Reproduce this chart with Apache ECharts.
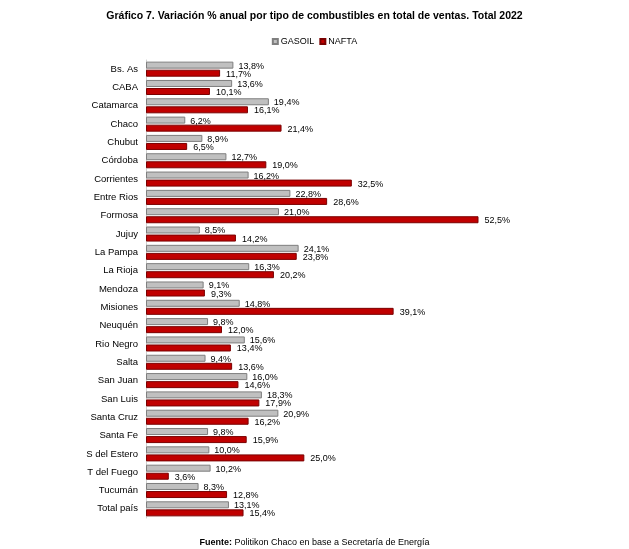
<!DOCTYPE html>
<html lang="es">
<head>
<meta charset="UTF-8">
<title>Gráfico 7</title>
<style>
  html, body { margin: 0; padding: 0; background: #fff; }
  #main { width: 629px; height: 549px; }
</style>
<script src="https://cdn.jsdelivr.net/npm/echarts@6/dist/echarts.min.js"></script>
</head>
<body>
<div id="main"></div>
<script type="text/javascript">
// provincias, de arriba hacia abajo
var provincias = ['Bs. As', 'CABA', 'Catamarca', 'Chaco', 'Chubut', 'Córdoba', 'Corrientes',
  'Entre Rios', 'Formosa', 'Jujuy', 'La Pampa', 'La Rioja', 'Mendoza', 'Misiones', 'Neuquén',
  'Rio Negro', 'Salta', 'San Juan', 'San Luis', 'Santa Cruz', 'Santa Fe', 'S del Estero',
  'T del Fuego', 'Tucumán', 'Total país'];
var gasoil = [13.8, 13.6, 19.4, 6.2, 8.9, 12.7, 16.2, 22.8, 21.0, 8.5, 24.1, 16.3, 9.1, 14.8,
  9.8, 15.6, 9.4, 16.0, 18.3, 20.9, 9.8, 10.0, 10.2, 8.3, 13.1];
var nafta = [11.7, 10.1, 16.1, 21.4, 6.5, 19.0, 32.5, 28.6, 52.5, 14.2, 23.8, 20.2, 9.3, 39.1,
  12.0, 13.4, 13.6, 14.6, 17.9, 16.2, 15.9, 25.0, 3.6, 12.8, 15.4];

var fmt = function (p) {
  return p.value.toFixed(1).replace('.', ',') + '%';
};

var myChart = echarts.init(document.getElementById('main'));
var option = {
  animation: false,
  textStyle: { fontFamily: 'Liberation Sans, Arial, sans-serif' },
  title: [
    {
      text: 'Gráfico 7. Variación % anual por tipo de combustibles en total de ventas. Total 2022',
      left: 'center',
      top: 6,
      textStyle: { fontSize: 10.5, fontWeight: 'bold', color: '#000' }
    },
    {
      text: '{b|Fuente:} Politikon Chaco en base a Secretaría de Energía',
      left: 'center',
      top: 533,
      textStyle: {
        fontSize: 9, fontWeight: 'normal', color: '#000',
        rich: { b: { fontSize: 9, fontWeight: 'bold', color: '#000' } }
      }
    }
  ],
  legend: {
    top: 32,
    left: 'center',
    icon: 'rect',
    itemWidth: 5,
    itemHeight: 5,
    itemGap: 5,
    textStyle: { fontSize: 9, color: '#000', padding: [0, 0, 0, -2] },
    data: ['GASOIL', 'NAFTA']
  },
  grid: { left: 146, right: 103, top: 60, bottom: 31 },
  xAxis: {
    type: 'value',
    min: 0,
    max: 60,
    show: false
  },
  yAxis: {
    type: 'category',
    inverse: true,
    data: provincias,
    axisLine: { lineStyle: { color: '#d0d0d0', width: 1 } },
    axisTick: { show: false },
    axisLabel: { fontSize: 9.5, color: '#000', margin: 8 }
  },
  series: [
    {
      name: 'GASOIL',
      type: 'bar',
      data: gasoil,
      barWidth: 7,
      barGap: '15%',
      itemStyle: { color: '#c0c0c0', borderColor: '#7f7f7f', borderWidth: 1 },
      label: {
        show: true, position: 'right', distance: 5, offset: [0, 1],
        fontSize: 9, color: '#000', formatter: fmt
      }
    },
    {
      name: 'NAFTA',
      type: 'bar',
      data: nafta,
      barWidth: 7,
      itemStyle: { color: '#c00000', borderColor: '#7a0000', borderWidth: 1 },
      label: {
        show: true, position: 'right', distance: 6, offset: [0, 1],
        fontSize: 9, color: '#000', formatter: fmt
      }
    }
  ]
};
myChart.setOption(option);
</script>
</body>
</html>
